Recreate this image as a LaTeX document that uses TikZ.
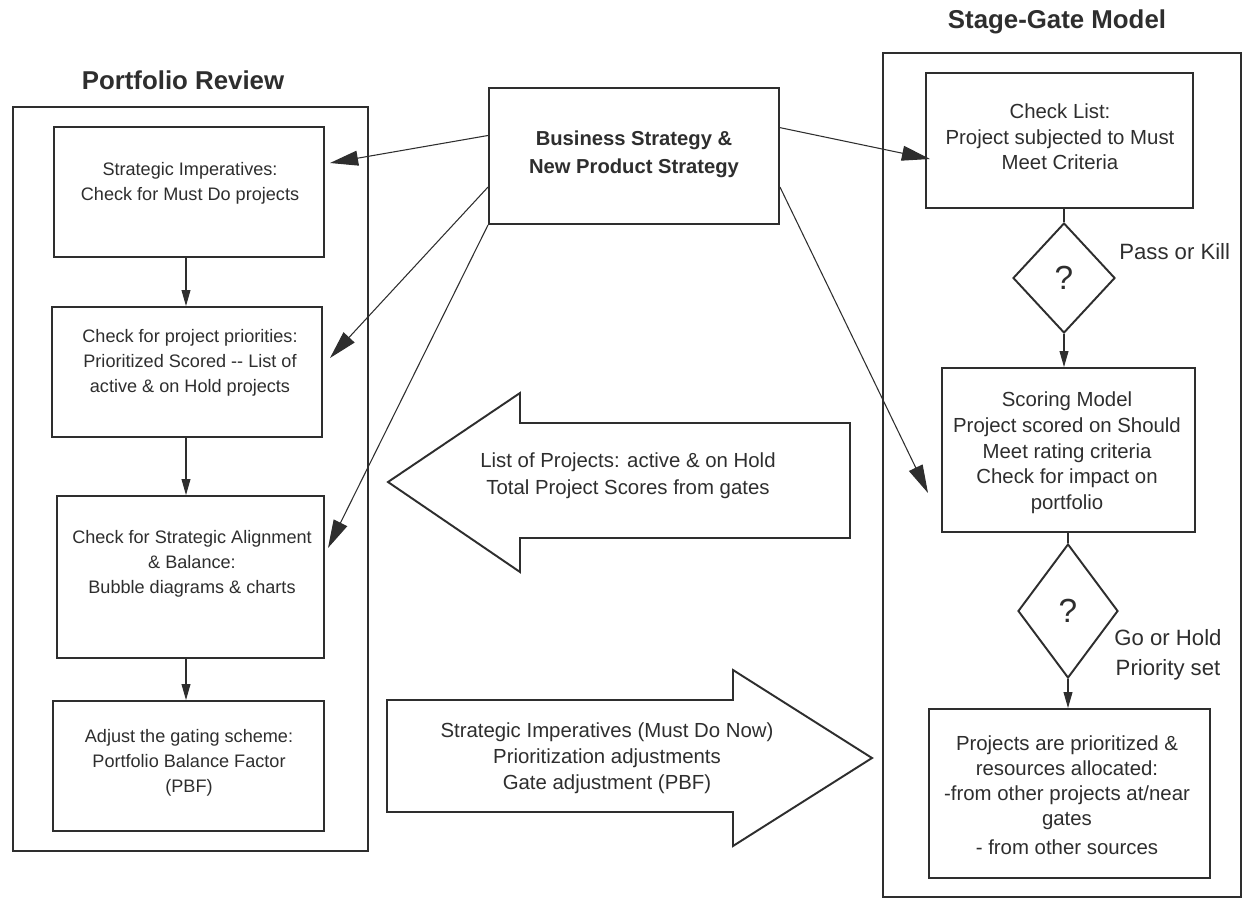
\documentclass[tikz,border=0pt]{standalone}
\usepackage{fontspec}
\setmainfont{Liberation Sans}
\usetikzlibrary{arrows.meta,fit,shapes.geometric}
\definecolor{ink}{HTML}{2E2E2E}
\begin{document}
\begin{tikzpicture}[x=0.02cm,y=-0.02cm,
  frame/.style={draw=ink,line width=1.1pt,inner sep=0pt},
  ltxt/.style={text=ink,align=center,inner sep=0pt,font=\fontsize{10.3}{14.2}\selectfont},
  rtxt/.style={text=ink,align=center,inner sep=0pt,font=\fontsize{11.6}{14.6}\selectfont},
  atxt/.style={text=ink,align=center,inner sep=0pt,font=\fontsize{11.6}{15.5}\selectfont},
  ttl/.style={text=ink,inner sep=0pt,font=\fontsize{14.7}{17}\selectfont\bfseries},
  lbl/.style={text=ink,inner sep=0pt,font=\fontsize{12.6}{17}\selectfont},
  gate/.style={diamond,draw=ink,line width=1.1pt,inner sep=0pt,text=ink,font=\fontsize{19}{20}\selectfont},
  sarrow/.style={draw=ink,line width=0.6pt,-{Triangle[length=9pt,width=5pt]}},
  barrow/.style={draw=ink,line width=0.6pt,-{Triangle[length=16pt,width=8.5pt]}},
  link/.style={draw=ink,line width=0.6pt},
  bigarrow/.style={draw=ink,line width=1.1pt,line join=miter}]
\useasboundingbox[fill=white] (0,0) rectangle (1244,900);

% titles
\node[ttl] (tpr) at (183,80) {Portfolio Review};
\node[ttl] (tsg) at (1057,22) {Stage-Gate Model};

% outer frames
\node[frame,fit={(13,107)(368,851)}] (lout) {};
\node[frame,fit={(883,53)(1241,897)}] (rout) {};

% portfolio review boxes
\node[frame,fit={(54,127)(324,257)}] (b1) {};
\node[ltxt] (b1t) at (190,183) {Strategic Imperatives:\\Check for Must Do projects};
\node[frame,fit={(52,307)(322,437)}] (b2) {};
\node[ltxt] (b2t) at (190,363) {Check for project priorities:\\Prioritized Scored {-}{-} List of\\active \& on Hold projects};
\node[frame,fit={(57,496)(324,658)}] (b3) {};
\node[ltxt] (b3t) at (192,564) {Check for Strategic Alignment\\\& Balance:\\Bubble diagrams \& charts};
\node[frame,fit={(53,701)(324,831)}] (b4) {};
\node[ltxt] (b4t) at (189,763) {Adjust the gating scheme:\\Portfolio Balance Factor\\(PBF)};

% business strategy
\node[frame,fit={(489,88)(779,224)}] (biz) {};
\node[text=ink,align=center,inner sep=0pt,font=\fontsize{11.5}{16}\selectfont\bfseries] (bizt) at (634,154) {Business Strategy \&\\New Product Strategy};

% stage-gate boxes
\node[frame,fit={(926,73)(1193,208)}] (cl) {};
\node[rtxt] (clt) at (1060,137) {Check List:\\Project subjected to Must\\Meet Criteria};
\node[gate,minimum width=2.04cm,minimum height=2.2cm] (d1) at (1064,278) {?};
\node[frame,fit={(942,368)(1195,532)}] (sm) {};
\node[rtxt] (smt) at (1067,453) {Scoring Model\\Project scored on Should\\Meet rating criteria\\Check for impact on\\portfolio};
\node[gate,minimum width=2.0cm,minimum height=2.68cm] (d2) at (1068,611) {?};
\node[frame,fit={(929,709)(1210,878)}] (fin) {};
\node[rtxt,font=\fontsize{11.6}{14.3}\selectfont] (fint) at (1067,795) {Projects are prioritized \&\\resources allocated:\\-from other projects at/near\\gates\\[2pt]- from other sources};

% gate labels
\node[lbl,anchor=west] (pk) at (1119,252) {Pass or Kill};
\node[lbl,align=center] (gh) at (1168,655) {Go or Hold\\Priority set};

% vertical flow
\draw[sarrow] (b1.south -| 186,0) -- (b2.north -| 186,0);
\draw[sarrow] (b2.south -| 186,0) -- (b3.north -| 186,0);
\draw[sarrow] (b3.south -| 186,0) -- (b4.north -| 186,0);
\draw[link] (d1.north |- cl.south) -- (d1.north);
\draw[sarrow] (d1.south) -- (d1.south |- sm.north);
\draw[link] (d2.north |- sm.south) -- (d2.north);
\draw[sarrow] (d2.south) -- (d2.south |- fin.north);

% strategy connectors
\coordinate (t1) at (330,163);
\coordinate (t2) at (330,358);
\coordinate (t3) at (328,548);
\coordinate (t4) at (930,159);
\coordinate (t5) at (928,493);
\draw[barrow] (biz.172.5) -- (t1);
\draw[barrow] (biz.192) -- (t2);
\draw[barrow] (biz.south west) -- (t3);
\draw[barrow] (biz.11.3) -- (t4);
\draw[barrow] (biz.-12) -- (t5);

% big block arrows
\draw[bigarrow] (850,423) -- (520,423) -- (520,393) -- (388,482) -- (520,572) -- (520,538) -- (850,538) -- cycle;
\node[atxt] (lat) at (628,476) {List of Projects: active \& on Hold\\Total Project Scores from gates};
\draw[bigarrow] (387,700) -- (733,700) -- (733,670) -- (872,758) -- (733,846) -- (733,812) -- (387,812) -- cycle;
\node[atxt,font=\fontsize{11.6}{14.7}\selectfont] (rat) at (607,758) {Strategic Imperatives (Must Do Now)\\Prioritization adjustments\\Gate adjustment (PBF)};
\end{tikzpicture}
\end{document}
